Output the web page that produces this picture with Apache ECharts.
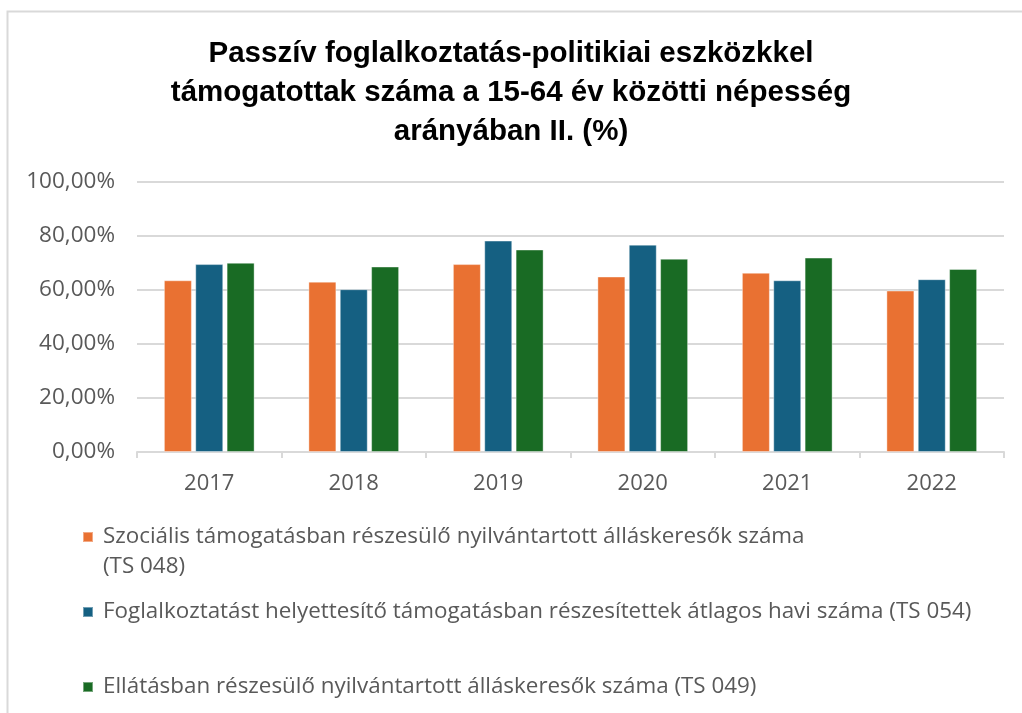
<!DOCTYPE html>
<html>
<head>
<meta charset="utf-8">
<script src="https://cdn.jsdelivr.net/npm/echarts@6/dist/echarts.min.js"></script>
<style>
  html, body { margin: 0; padding: 0; background: #fff; }
  #chart { width: 1022px; height: 713px; }
</style>
</head>
<body>
<div id="chart"></div>
<script>
const years = ['2017', '2018', '2019', '2020', '2021', '2022']
const seriesNames = [
  'Szociális támogatásban részesülő nyilvántartott álláskeresők száma (TS 048)',
  'Foglalkoztatást helyettesítő támogatásban részesítettek átlagos havi száma (TS 054)',
  'Ellátásban részesülő nyilvántartott álláskeresők száma (TS 049)',
]
const szocialis = [63.6, 63.1, 69.6, 65.0, 66.4, 59.8]
const foglalkoztatast = [69.6, 60.3, 78.3, 76.8, 63.6, 64.0]
const ellatas = [70.1, 68.7, 75.0, 71.6, 72.0, 67.8]
const colors = ['#E97132', '#156082', '#196B24']

const font = 'Open Sans'
const grey = '#595959'

const chart = echarts.init(document.getElementById('chart'))

const legendFor = (i, top, formatter) => ({
  data: [seriesNames[i]],
  left: 77,
  top,
  orient: 'vertical',
  icon: 'rect',
  itemWidth: 10,
  itemHeight: 10,
  itemGap: 0,
  selectedMode: false,
  formatter,
  textStyle: { color: grey, fontSize: 22.4, fontFamily: font, lineHeight: 30, padding: [0, 0, 0, 5] },
})

const bar = (i, values) => ({
  name: seriesNames[i],
  type: 'bar',
  data: values,
  barWidth: 28,
  barGap: '12%',
  itemStyle: { color: colors[i], borderColor: 'rgba(255,255,255,0.4)', borderWidth: 1 },
})

chart.setOption({
  animation: false,
  title: {
    text: 'Passzív foglalkoztatás-politikiai eszközkkel\ntámogatottak száma a 15-64 év közötti népesség\narányában II. (%)',
    left: 'center',
    top: 29,
    textStyle: { color: '#000', fontSize: 29.5, fontWeight: 'bold', fontFamily: 'Liberation Sans', lineHeight: 39 },
  },
  graphic: [{
    type: 'rect',
    shape: { x: 7.5, y: 11.5, width: 1030, height: 720 },
    style: { fill: 'none', stroke: '#d9d9d9', lineWidth: 2 },
    silent: true,
  }],
  legend: [
    legendFor(0, 487, () => ' \nSzociális támogatásban részesülő nyilvántartott álláskeresők száma\n(TS 048)'),
    legendFor(1, 592),
    legendFor(2, 667),
  ],
  grid: { left: 137, right: 18, top: 182, bottom: 261, containLabel: false },
  xAxis: {
    type: 'category',
    data: years,
    axisLine: { lineStyle: { color: '#d9d9d9', width: 2 } },
    axisTick: { show: true, lineStyle: { color: '#d9d9d9', width: 2 }, length: 6 },
    axisLabel: { color: grey, fontSize: 22, fontFamily: font, margin: 21 },
  },
  yAxis: {
    type: 'value',
    min: 0,
    max: 100,
    interval: 20,
    axisLine: { show: false },
    axisTick: { show: false },
    splitLine: { lineStyle: { color: '#d9d9d9', width: 2 } },
    axisLabel: {
      color: grey,
      fontSize: 22.5,
      fontFamily: font,
      margin: 22,
      formatter: v => v.toFixed(2).replace('.', ',') + '%',
    },
  },
  series: [bar(0, szocialis), bar(1, foglalkoztatast), bar(2, ellatas)],
})

window.addEventListener('resize', () => chart.resize())
</script>
</body>
</html>
